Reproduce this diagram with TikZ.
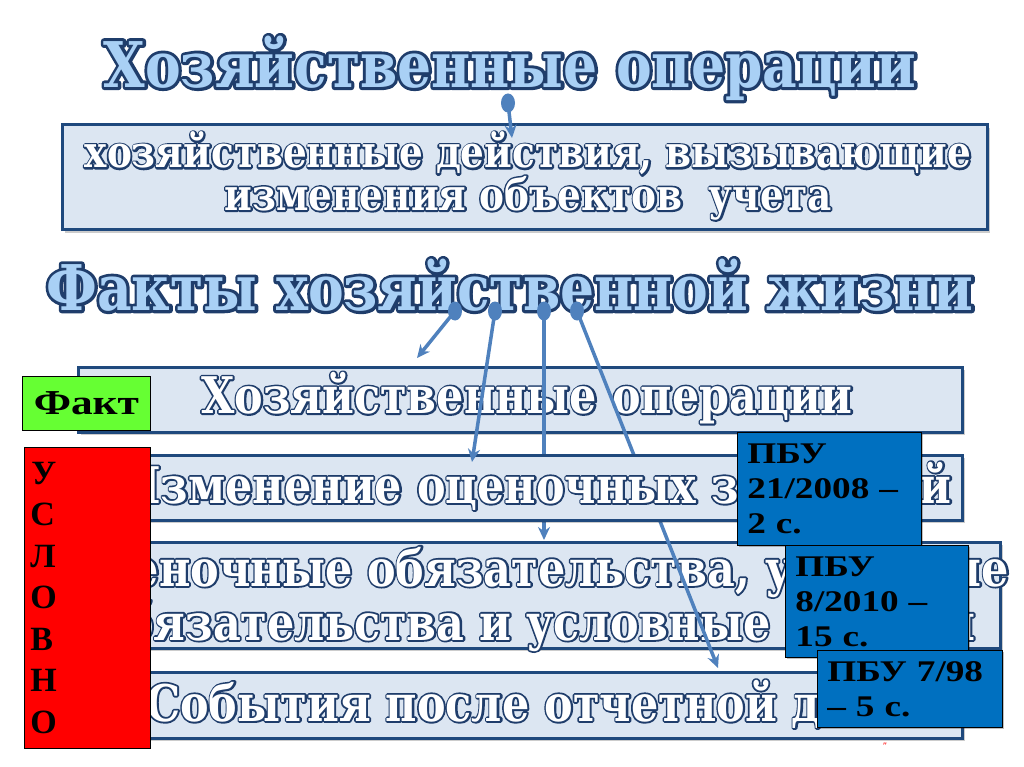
\documentclass[tikz,border=0pt]{standalone}
\usepackage{fontspec}
\setmainfont{DejaVu Serif}
\newfontfamily\ofont[FakeStretch=0.85]{DejaVu Serif}
\newfontfamily\pbufont[FakeStretch=1.24]{Liberation Serif}
\newfontfamily\uslfont{Liberation Serif}
\usetikzlibrary{arrows.meta,shadows,shapes.geometric}
\definecolor{ttlfill}{HTML}{A9D0F5}
\definecolor{boxfill}{HTML}{DCE6F2}
\definecolor{boxline}{HTML}{1F497D}
\definecolor{arrcol}{HTML}{4F81BD}
\definecolor{pbufill}{HTML}{0070C0}
\definecolor{factgreen}{HTML}{66FF33}
% outlined text (outline outside the glyphs): #1 stroke width, #2 one line of text
\newcommand\outl[2]{\rlap{\special{pdf:literal direct 0.12 0.24 0.42 RG #1 w 1 j 1 J 1 Tr}#2\special{pdf:literal direct 0 Tr}}#2}
\begin{document}
\begin{tikzpicture}[x=1pt,y=-1pt,
  ttl/.style={font=\ofont\bfseries\fontsize{63}{66}\selectfont, text=ttlfill, inner sep=0pt},
  rowtxt/.style={font=\ofont\bfseries\fontsize{50.5}{54}\selectfont, text=white, inner sep=0pt, align=center},
  toptxt/.style={font=\ofont\bfseries\fontsize{44}{40}\selectfont, text=white, inner sep=0pt, align=center},
  rowbox/.style={draw=boxline, line width=3pt, fill=boxfill, inner sep=0pt,
    drop shadow={shadow xshift=3pt, shadow yshift=-3pt, fill=black, opacity=0.2}},
  arr/.style={draw=arrcol, line width=3.5pt, -{Stealth[length=13pt,width=12pt]}},
  dotst/.style={ellipse, fill=arrcol, minimum width=14pt, minimum height=19pt, inner sep=0pt},
  pbu/.style={draw=black, line width=0.8pt, fill=pbufill, anchor=north west, inner xsep=10pt, inner ysep=0pt,
    font=\pbufont\bfseries\fontsize{30}{35}\selectfont, align=left,
    drop shadow={shadow xshift=2pt, shadow yshift=-2pt, fill=black, opacity=0.25}},
  sidebox/.style={draw=black, line width=0.8pt, anchor=north west, inner sep=0pt}
]
\useasboundingbox (0,0) rectangle (1024,767);
\fill[white] (0,0) rectangle (1024,767);

% titles
\node[ttl] (t1) at (510,68) {\outl{6}{Хозяйственные операции}};
\node[ttl] (t2) at (510,285) {\outl{6}{Факты хозяйственной жизни}};

% top box
\node[rowbox, minimum width=925pt, minimum height=105pt] (b0) at (524.5,177.5) {};
\node[toptxt] (b0t) at (528,176) {\outl{3.6}{хозяйственные действия, вызывающие}\\\outl{3.6}{изменения объектов~~учета}};

\node[dotst] (d0) at (508,103) {};
\coordinate (e0) at (512,138);
\draw[arr] (d0.center) -- (e0);

% row boxes
\node[rowbox, minimum width=884pt, minimum height=65pt] (r1) at (520,399.5) {};
\node[rowtxt] (r1t) at (527,398) {\outl{3.6}{Хозяйственные операции}};

\node[rowbox, minimum width=860pt, minimum height=106pt] (r3) at (570,595) {};
\node[rowtxt] (r3t) at (536,599) {\outl{3.6}{Оценочные обязательства, условные}\\\outl{3.6}{обязательства и условные активы}};

\node[rowbox, minimum width=884pt, minimum height=66pt] (r4) at (520,705) {};
\node[rowtxt] (r4t) at (532,704) {\outl{3.6}{События после отчетной даты}};

% dots and arrows
\node[dotst] (d1) at (455,311) {};
\node[dotst] (d2) at (495,311) {};
\node[dotst] (d3) at (544,311) {};
\node[dotst] (d4) at (577,311) {};
\coordinate (e1) at (417,358);
\coordinate (e2) at (472,462);
\coordinate (e3) at (544,540);
\coordinate (e4) at (718,668);
\draw[arr] (d3.center) -- (e3);
\draw[arr] (d4.center) -- (e4);

\node[rowbox, minimum width=884pt, minimum height=65pt] (r2) at (520,487.5) {};
\node[rowtxt] (r2t) at (536,486) {\outl{3.6}{Изменение оценочных значений}};

\draw[arr] (d1.center) -- (e1);
\draw[arr] (d2.center) -- (e2);

% side boxes
\node[sidebox, fill=factgreen, minimum width=128pt, minimum height=54pt,
  font=\pbufont\bfseries\fontsize{35}{35}\selectfont] (fact) at (22,376) {Факт};
\node[sidebox, fill=red, minimum width=126pt, minimum height=301pt, align=left, text width=114pt,
  font=\uslfont\bfseries\fontsize{34}{41.5}\selectfont] (usl) at (24,447)
  {\hspace*{1pt}У\\С\\Л\\О\\В\\Н\\О};

% PBU boxes
\node[pbu, minimum width=184pt, minimum height=113pt, text width=164pt] (p1) at (737,432) {ПБУ\\21/2008 –\\2 с.};
\node[pbu, minimum width=183pt, minimum height=112pt, text width=163pt] (p2) at (785,545) {ПБУ\\8/2010 –\\15 с.};
\node[pbu, minimum width=185pt, minimum height=77pt, text width=165pt] (p3) at (817,650) {ПБУ 7/98\\– 5 с.};

\node[text=red, font=\fontsize{9}{9}\selectfont, inner sep=0pt] (q) at (885,746) {"};
\end{tikzpicture}
\end{document}
